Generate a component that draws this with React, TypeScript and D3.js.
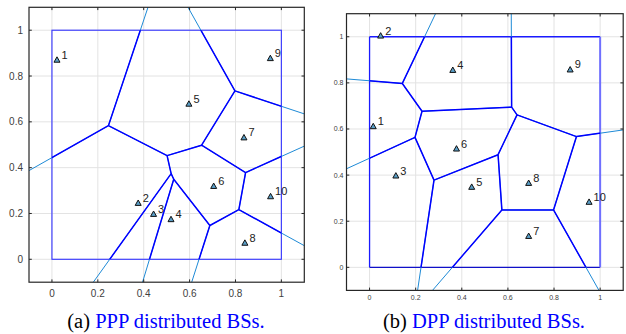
import React from "react";
import * as d3 from "d3";

// Base-station positions for the two deployments
const pppIds = [1, 2, 3, 4, 5, 6, 7, 8, 9, 10];
const pppX = [0.022, 0.376, 0.443, 0.519, 0.597, 0.705, 0.837, 0.841, 0.952, 0.953];
const pppY = [0.869, 0.244, 0.196, 0.173, 0.677, 0.318, 0.53, 0.07, 0.876, 0.273];

const dppIds = [1, 2, 3, 4, 5, 6, 7, 8, 9, 10];
const dppX = [0.016, 0.048, 0.114, 0.361, 0.443, 0.377, 0.69, 0.69, 0.87, 0.952];
const dppY = [0.61, 1.003, 0.396, 0.854, 0.347, 0.513, 0.134, 0.364, 0.856, 0.282];

const tickValues = [0, 0.2, 0.4, 0.6, 0.8, 1];
const tickLabels = ["0", "0.2", "0.4", "0.6", "0.8", "1"];
const domain: [number, number] = [-0.1, 1.1];

const captionA = ["(a) ", "PPP distributed BSs."];
const captionB = ["(b) ", "DPP distributed BSs."];

type PanelProps = {
  id: string;
  ids: number[];
  xs: number[];
  ys: number[];
  xRange: [number, number];
  yRange: [number, number];
  tickFont: number;
  xLabelY: number;
  yLabelGap: number;
  dpp?: boolean;
};

function meshPath(
  xs: number[],
  ys: number[],
  sx: d3.ScaleLinear<number, number>,
  sy: d3.ScaleLinear<number, number>
): string {
  const pts = xs.map((x, i) => [x, ys[i]] as [number, number]);
  const vor = d3.Delaunay.from(pts).voronoi([-20, -20, 21, 21]);
  let d = "";
  const ctx = {
    moveTo(x: number, y: number) {
      d += `M${sx(x)},${sy(y)}`;
    },
    lineTo(x: number, y: number) {
      d += `L${sx(x)},${sy(y)}`;
    },
    closePath() {
      d += "Z";
    },
  };
  vor.render(ctx as any);
  return d;
}

function Panel(p: PanelProps) {
  const sx = d3.scaleLinear().domain(domain).range(p.xRange);
  const sy = d3.scaleLinear().domain(domain).range(p.yRange);
  const [x0, x1] = p.xRange;
  const [y0, y1] = [p.yRange[1], p.yRange[0]];
  const mesh = meshPath(p.xs, p.ys, sx, sy);
  const tickLen = 2.8;
  const axisColor = "#262626";
  return (
    <g>
      <defs>
        <clipPath id={`${p.id}-axes`}>
          <rect x={x0} y={y0} width={x1 - x0} height={y1 - y0} />
        </clipPath>
        <clipPath id={`${p.id}-unit`}>
          <rect x={sx(0)} y={sy(1)} width={sx(1) - sx(0)} height={sy(0) - sy(1)} />
        </clipPath>
      </defs>
      <rect x={x0} y={y0} width={x1 - x0} height={y1 - y0} fill="#fff" />
      {/* grid */}
      {tickValues.map((t) => (
        <g key={`g${t}`}>
          <line x1={sx(t)} x2={sx(t)} y1={y0} y2={y1} stroke="#e3e3e3" strokeWidth={1} />
          <line x1={x0} x2={x1} y1={sy(t)} y2={sy(t)} stroke="#e3e3e3" strokeWidth={1} />
        </g>
      ))}
      {/* unit square */}
      {p.dpp ? (
        <g fill="none">
          <line x1={sx(0)} x2={sx(1)} y1={sy(1)} y2={sy(1)} stroke="#1a1aff" strokeWidth={1.3} />
          <line x1={sx(0)} x2={sx(0)} y1={sy(1)} y2={sy(0)} stroke="#1a1aff" strokeWidth={1.3} />
          <line x1={sx(0)} x2={sx(1)} y1={sy(0)} y2={sy(0)} stroke="#1010c8" strokeWidth={1.3} />
          <line x1={sx(1)} x2={sx(1)} y1={sy(1)} y2={sy(0)} stroke="#6f6fff" strokeWidth={2} />
        </g>
      ) : (
        <rect
          x={sx(0)}
          y={sy(1)}
          width={sx(1) - sx(0)}
          height={sy(0) - sy(1)}
          fill="none"
          stroke="#3333ff"
          strokeWidth={1.1}
        />
      )}
      {/* Voronoi edges: outside the unit square lighter, inside solid blue */}
      <path d={mesh} fill="none" stroke="#1e8ad6" strokeWidth={1} clipPath={`url(#${p.id}-axes)`} />
      <path d={mesh} fill="none" stroke="#0000ff" strokeWidth={1.5} clipPath={`url(#${p.id}-unit)`} />
      {/* base stations */}
      {p.xs.map((x, i) => {
        const cx = sx(x);
        const cy = sy(p.ys[i]);
        return (
          <g key={`m${i}`}>
            <path
              d={`M${cx},${cy - 3.4}L${cx + 3},${cy + 2}L${cx - 3},${cy + 2}Z`}
              fill="#5a9fc8"
              stroke="#111"
              strokeWidth={1}
            />
            <text
              x={cx + 4.5}
              y={cy - 1.5}
              fontFamily="'Liberation Sans', Arial, sans-serif"
              fontSize={11}
              fill="#222"
            >
              {p.ids[i]}
            </text>
          </g>
        );
      })}
      {/* axes box with inward ticks */}
      <rect x={x0} y={y0} width={x1 - x0} height={y1 - y0} fill="none" stroke={axisColor} strokeWidth={1.2} />
      {tickValues.map((t) => (
        <g key={`t${t}`} stroke={axisColor} strokeWidth={1}>
          <line x1={sx(t)} x2={sx(t)} y1={y1} y2={y1 - tickLen} />
          <line x1={sx(t)} x2={sx(t)} y1={y0} y2={y0 + tickLen} />
          <line x1={x0} x2={x0 + tickLen} y1={sy(t)} y2={sy(t)} />
          <line x1={x1} x2={x1 - tickLen} y1={sy(t)} y2={sy(t)} />
        </g>
      ))}
      <g fontFamily="'Liberation Sans', Arial, sans-serif" fontSize={p.tickFont} fill="#404040">
        {tickValues.map((t, i) => (
          <text key={`xl${t}`} x={sx(t)} y={p.xLabelY} textAnchor="middle">
            {tickLabels[i]}
          </text>
        ))}
        {tickValues.map((t, i) => (
          <text key={`yl${t}`} x={x0 - p.yLabelGap} y={sy(t)} dy="0.35em" textAnchor="end">
            {tickLabels[i]}
          </text>
        ))}
      </g>
    </g>
  );
}

export default function App() {
  return (
    <div style={{ position: "absolute", left: 0, top: 0 }}>
      <svg width={626} height={334} style={{ display: "block", background: "#fff" }}>
        <Panel
          id="ppp"
          ids={pppIds}
          xs={pppX}
          ys={pppY}
          xRange={[29, 304.3]}
          yRange={[282.2, 7.3]}
          tickFont={10}
          xLabelY={297}
          yLabelGap={6}
        />
        <Panel
          id="dpp"
          ids={dppIds}
          xs={dppX}
          ys={dppY}
          xRange={[346.5, 623.2]}
          yRange={[290.4, 13.7]}
          tickFont={7}
          xLabelY={300}
          yLabelGap={3}
          dpp
        />
        <g style={{ fontFamily: "'Liberation Serif', 'DejaVu Serif', serif" }} fontSize={20.5}>
          <text x={166} y={327.5} textAnchor="middle">
            <tspan fill="#000">{captionA[0]}</tspan>
            <tspan fill="#0000ff">{captionA[1]}</tspan>
          </text>
          <text x={484} y={327.5} textAnchor="middle">
            <tspan fill="#000">{captionB[0]}</tspan>
            <tspan fill="#0000ff">{captionB[1]}</tspan>
          </text>
        </g>
      </svg>
    </div>
  );
}
